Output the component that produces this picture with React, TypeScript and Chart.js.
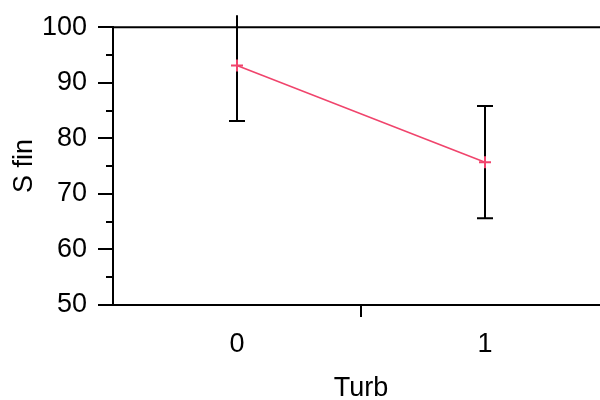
import React, { useEffect, useRef } from "react";
import { Chart, registerables } from "chart.js";

Chart.register(...registerables);

const categories = ["0", "1"];
const means = [93.1, 75.7];
const errLow = [83.1, 65.6];
const errHigh = [103.1, 85.8];
const yMin = 50;
const yMax = 100;
const yStep = 10;
const xTitle = "Turb";
const yTitle = "S fin";

const FONT = "'Liberation Sans', Arial, sans-serif";
const FONT_SIZE = 27;
const LINE_COLOR = "#f0446c";

export default function App() {
  const ref = useRef<HTMLCanvasElement>(null);

  useEffect(() => {
    if (!ref.current) return;

    const frame = {
      id: "frame",
      afterDraw(chart: any) {
        const { ctx, chartArea } = chart;
        const y = chart.scales.y;
        ctx.save();
        ctx.strokeStyle = "#000";
        ctx.lineWidth = 2;
        ctx.beginPath();
        ctx.moveTo(chartArea.left - 1, chartArea.top);
        ctx.lineTo(chartArea.right, chartArea.top);
        ctx.stroke();
        const ticks = y.ticks.map((t: any) => t.value);
        ctx.beginPath();
        for (let i = 0; i < ticks.length - 1; i++) {
          const v = (ticks[i] + ticks[i + 1]) / 2;
          const py = Math.round(y.getPixelForValue(v));
          ctx.moveTo(chartArea.left - 7, py);
          ctx.lineTo(chartArea.left, py);
        }
        ctx.stroke();
        ctx.restore();
      },
    };

    const errorBars = {
      id: "errorBars",
      beforeDatasetsDraw(chart: any) {
        const { ctx, chartArea } = chart;
        const x = chart.scales.x;
        const y = chart.scales.y;
        ctx.save();
        ctx.beginPath();
        ctx.rect(
          chartArea.left,
          chartArea.top - 12,
          chartArea.right - chartArea.left,
          chartArea.bottom - chartArea.top + 12
        );
        ctx.clip();
        ctx.strokeStyle = "#000";
        ctx.lineWidth = 2;
        const cap = 8;
        for (let i = 0; i < categories.length; i++) {
          const px = Math.round(x.getPixelForValue(i));
          const pLo = y.getPixelForValue(errLow[i]);
          const pHi = y.getPixelForValue(errHigh[i]);
          ctx.beginPath();
          ctx.moveTo(px, pLo);
          ctx.lineTo(px, pHi);
          ctx.moveTo(px - cap, pLo);
          ctx.lineTo(px + cap, pLo);
          ctx.moveTo(px - cap, pHi);
          ctx.lineTo(px + cap, pHi);
          ctx.stroke();
        }
        ctx.restore();
      },
    };

    const chart = new Chart(ref.current, {
      type: "line",
      data: {
        labels: categories,
        datasets: [
          {
            data: means,
            borderColor: LINE_COLOR,
            backgroundColor: LINE_COLOR,
            borderWidth: 1.5,
            pointStyle: "cross",
            pointRadius: 6,
            pointBorderWidth: 2,
            pointBorderColor: LINE_COLOR,
            fill: false,
            tension: 0,
          },
        ],
      },
      options: {
        responsive: false,
        animation: false,
        devicePixelRatio: 1,
        layout: { padding: { top: 25, right: 11, bottom: 0, left: 0 } },
        plugins: {
          legend: { display: false },
          tooltip: { enabled: false },
        },
        scales: {
          x: {
            type: "category",
            offset: true,
            grid: {
              display: true,
              drawOnChartArea: false,
              drawTicks: true,
              tickLength: 12,
              offset: true,
              lineWidth: 2,
              color: (c: any) => (c.index === 0 ? "rgba(0,0,0,0)" : "#000"),
            },
            border: { display: true, color: "#000", width: 2 },
            ticks: {
              color: "#000",
              padding: 11,
              font: { family: FONT, size: FONT_SIZE },
              maxRotation: 0,
            },
            title: {
              display: true,
              text: xTitle,
              color: "#000",
              font: { family: FONT, size: FONT_SIZE },
              padding: { top: 0, bottom: -5 },
            },
            afterFit(scale: any) {
              scale.height = 95;
            },
          },
          y: {
            type: "linear",
            min: yMin,
            max: yMax,
            grid: {
              drawOnChartArea: false,
              drawTicks: true,
              tickLength: 15,
              lineWidth: 2,
              color: "#000",
            },
            border: { display: true, color: "#000", width: 2 },
            ticks: {
              stepSize: yStep,
              color: "#000",
              padding: 11,
              font: { family: FONT, size: FONT_SIZE },
            },
            title: {
              display: true,
              text: yTitle,
              color: "#000",
              font: { family: FONT, size: FONT_SIZE },
              padding: { top: 8, bottom: 0 },
            },
            afterFit(scale: any) {
              scale.width = 113;
            },
          },
        },
      },
      plugins: [frame, errorBars],
    });

    return () => chart.destroy();
  }, []);

  return (
    <div
      style={{
        position: "fixed",
        left: 0,
        top: 0,
        width: 600,
        height: 400,
        overflow: "hidden",
        background: "#fff",
      }}
    >
      <canvas ref={ref} width={620} height={400} style={{ display: "block" }} />
    </div>
  );
}
